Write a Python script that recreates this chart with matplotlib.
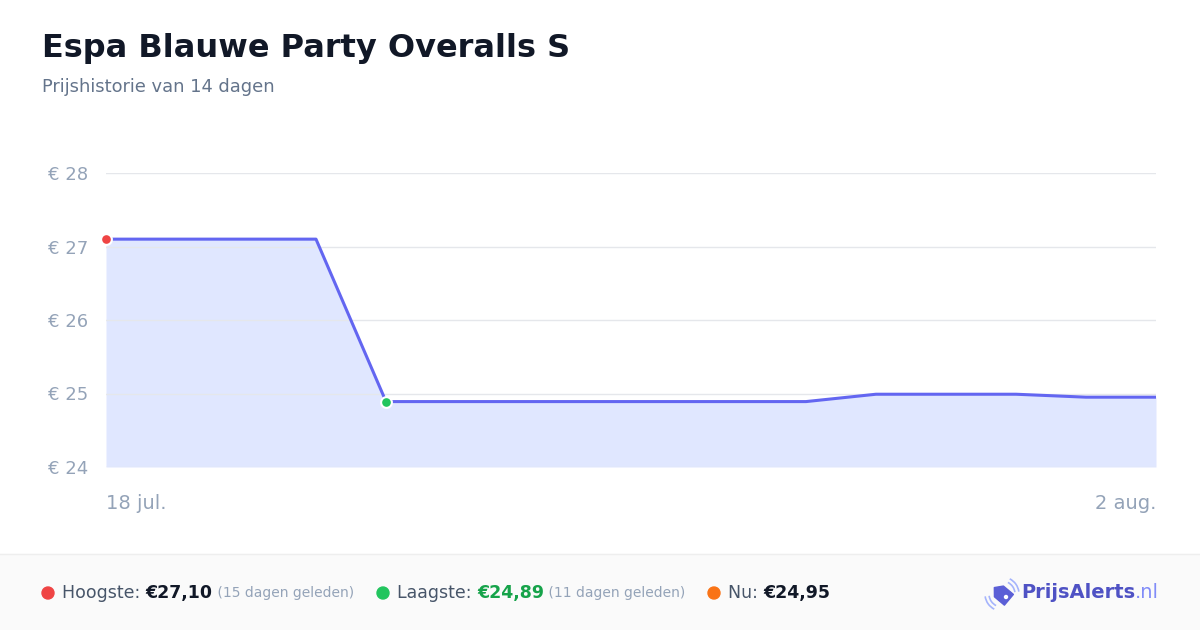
import matplotlib
matplotlib.use("Agg")
import matplotlib.pyplot as plt
import matplotlib.patches as mpatches
import numpy as np

# data (18 jul .. 2 aug, daily)
days = list(range(16))
prices = [27.10, 27.10, 27.10, 27.10, 24.89, 24.89, 24.89, 24.89, 24.89, 24.89, 24.89,
          24.99, 24.99, 24.99, 24.95, 24.95]
y_ticks = [24, 25, 26, 27, 28]
y_labels = ["€ 24", "€ 25", "€ 26", "€ 27", "€ 28"]
x_labels = ["18 jul.", "2 aug."]

W, H = 1200, 630
fig = plt.figure(figsize=(W / 100, H / 100), dpi=100)
fig.patch.set_facecolor("white")

def px(x, y):
    return x / W, 1 - y / H

# chart area: x 106..1156, y 173..467
ax = fig.add_axes([106 / W, 1 - 467 / H, 1050 / W, 294 / H])
ax.set_xlim(days[0], days[-1])
ax.set_ylim(24, 28)
ax.fill_between(days, prices, 24, color="#e0e7ff", zorder=1, linewidth=0)
for t in y_ticks:
    ax.axhline(t, color="#e5e7eb", linewidth=1, zorder=2)
ax.plot(days, prices, color="#6366f1", linewidth=2.2, zorder=3, solid_joinstyle="round")
i_max = int(np.argmax(prices))
i_min = int(np.argmin(prices))
ax.scatter([days[i_max]], [prices[i_max]], s=60, color="#ef4444", edgecolor="white", linewidth=1.5, zorder=4, clip_on=False)
ax.scatter([days[i_min]], [prices[i_min]], s=60, color="#22c55e", edgecolor="white", linewidth=1.5, zorder=4, clip_on=False)
ax.set_yticks(y_ticks)
ax.set_yticklabels(y_labels)
ax.set_xticks([])
ax.tick_params(axis="y", length=0, pad=13, labelsize=13, labelcolor="#94a3b8")
for s in ax.spines.values():
    s.set_visible(False)
ax.patch.set_alpha(0)

ax.text(0, -0.125, x_labels[0], transform=ax.transAxes, ha="left", va="center", fontsize=14, color="#94a3b8")
ax.text(1, -0.125, x_labels[1], transform=ax.transAxes, ha="right", va="center", fontsize=14, color="#94a3b8")

# title
fig.text(*px(42, 48), "Espa Blauwe Party Overalls S", fontsize=23, fontweight="bold", color="#111827", va="center")
fig.text(*px(42, 87), "Prijshistorie van 14 dagen", fontsize=12.9, color="#64748b", va="center")

# footer
fig.patches.append(mpatches.Rectangle((0, 0), 1, 1 - 554 / H, transform=fig.transFigure, color="#fafafa", zorder=0))
fig.add_artist(plt.Line2D([0, 1], [1 - 554 / H] * 2, transform=fig.transFigure, color="#eeeeee", linewidth=1))

renderer = fig.canvas.get_renderer()

def seq(x, y, parts):
    for txt, kw in parts:
        t = fig.text(*px(x, y), txt, va="center", **kw)
        bb = t.get_window_extent(renderer=renderer)
        x += bb.width
    return x

def dot(x, y, c):
    fig.add_artist(mpatches.Ellipse(px(x, y), 12 / W, 12 / H, transform=fig.transFigure, color=c))

fy = 593
lab = dict(fontsize=12.5, color="#475569")
note = dict(fontsize=10, color="#94a3b8")
dot(48, fy, "#ef4444")
seq(62, fy, [("Hoogste: ", lab), ("€27,10", dict(fontsize=12.5, fontweight="bold", color="#111827")),
             (" (15 dagen geleden)", note)])
dot(383, fy, "#22c55e")
seq(397, fy, [("Laagste: ", lab), ("€24,89", dict(fontsize=12.5, fontweight="bold", color="#16a34a")),
              (" (11 dagen geleden)", note)])
dot(714, fy, "#f97316")
seq(728, fy, [("Nu: ", lab), ("€24,95", dict(fontsize=12.5, fontweight="bold", color="#111827"))])

# logo: tilted price tag with signal arcs
cx, cy = 1002, 594
local = np.array([[-10, 0], [-4, -7], [9, -7], [9, 7], [-4, 7]], dtype=float)
ang = np.deg2rad(40)
rot = np.array([[np.cos(ang), -np.sin(ang)], [np.sin(ang), np.cos(ang)]])
pts = local @ rot.T + [cx, cy]
fig.add_artist(mpatches.Polygon([px(x, y) for x, y in pts], closed=True, transform=fig.transFigure,
                                color="#5b5fd6", joinstyle="round"))
fig.add_artist(mpatches.Ellipse(px(cx + 4, cy + 3), 3 / W, 3 / H, transform=fig.transFigure, color="white"))
for r in (13, 17):
    for t1, t2 in ((15, 75), (195, 255)):
        fig.add_artist(mpatches.Arc(px(cx, cy), 2 * r / W, 2 * r / H, theta1=t1, theta2=t2,
                                    transform=fig.transFigure, color="#a5b4fc", linewidth=1.2))
seq(1021, fy, [("PrijsAlerts", dict(fontsize=14, fontweight="bold", color="#4f52c4")),
               (".nl", dict(fontsize=14, color="#818cf8"))])

fig.savefig("out.png", dpi=100, facecolor=fig.get_facecolor())
